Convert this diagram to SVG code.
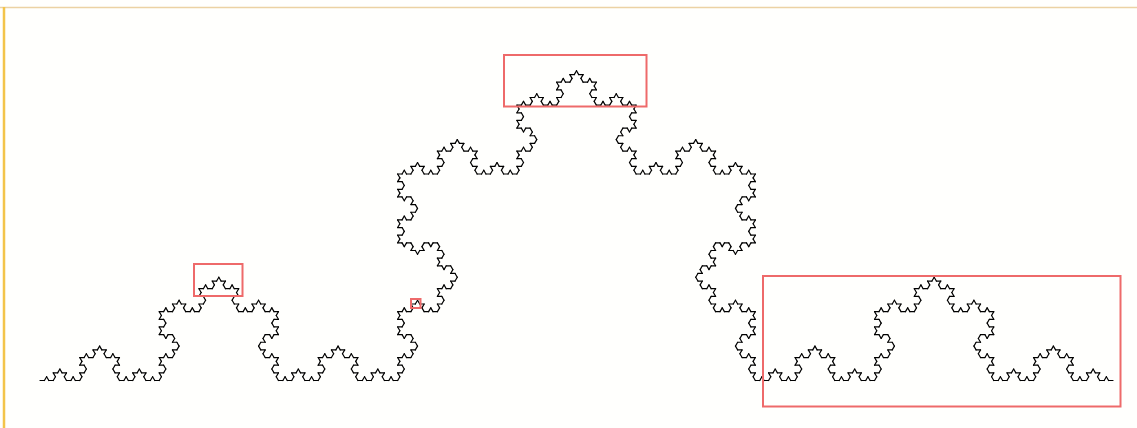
<svg xmlns="http://www.w3.org/2000/svg" xmlns:xlink="http://www.w3.org/1999/xlink" width="1137" height="428" viewBox="0 0 1137 428">
<style>
.k{stroke:#000;stroke-width:1.2;fill:none;stroke-linecap:round}
.r{fill:none;stroke:#ee6a6a;stroke-width:2}
</style>
<defs>
<line id="L0" class="k" x1="0" y1="0" x2="4.4156" y2="0"/>
<g id="L1"><use href="#L0"/><use href="#L0" transform="translate(4.4156,0) rotate(-60)"/><use href="#L0" transform="translate(6.6234,-3.8240) rotate(60)"/><use href="#L0" transform="translate(8.8312,0)"/></g>
<g id="L2"><use href="#L1"/><use href="#L1" transform="translate(13.2469,0) rotate(-60)"/><use href="#L1" transform="translate(19.8704,-11.4722) rotate(60)"/><use href="#L1" transform="translate(26.4938,0)"/></g>
<g id="L3"><use href="#L2"/><use href="#L2" transform="translate(39.7407,0) rotate(-60)"/><use href="#L2" transform="translate(59.6111,-34.4165) rotate(60)"/><use href="#L2" transform="translate(79.4815,0)"/></g>
<g id="L4"><use href="#L3"/><use href="#L3" transform="translate(119.2222,0) rotate(-60)"/><use href="#L3" transform="translate(178.8333,-103.2494) rotate(60)"/><use href="#L3" transform="translate(238.4444,0)"/></g>
<g id="L5"><use href="#L4"/><use href="#L4" transform="translate(357.6667,0) rotate(-60)"/><use href="#L4" transform="translate(536.5,-309.748) rotate(60)"/><use href="#L4" transform="translate(715.3333,0)"/></g>
</defs>
<rect x="0" y="0" width="1137" height="428" fill="#fffffd"/>
<line x1="0" y1="7.5" x2="1137" y2="7.5" stroke="#ecd2a4" stroke-width="1.5"/>
<line x1="4" y1="7" x2="4" y2="428" stroke="#f3c44a" stroke-width="2.5"/>
<use href="#L5" transform="translate(40,380.5)"/>
<g id="highlights">
<rect class="r" x="504" y="55" width="142.5" height="51.5"/>
<rect class="r" x="194" y="264" width="48.5" height="32"/>
<rect class="r" x="411" y="299" width="9.5" height="9"/>
<rect class="r" x="763" y="276" width="357.5" height="130.5"/>
</g>
</svg>
